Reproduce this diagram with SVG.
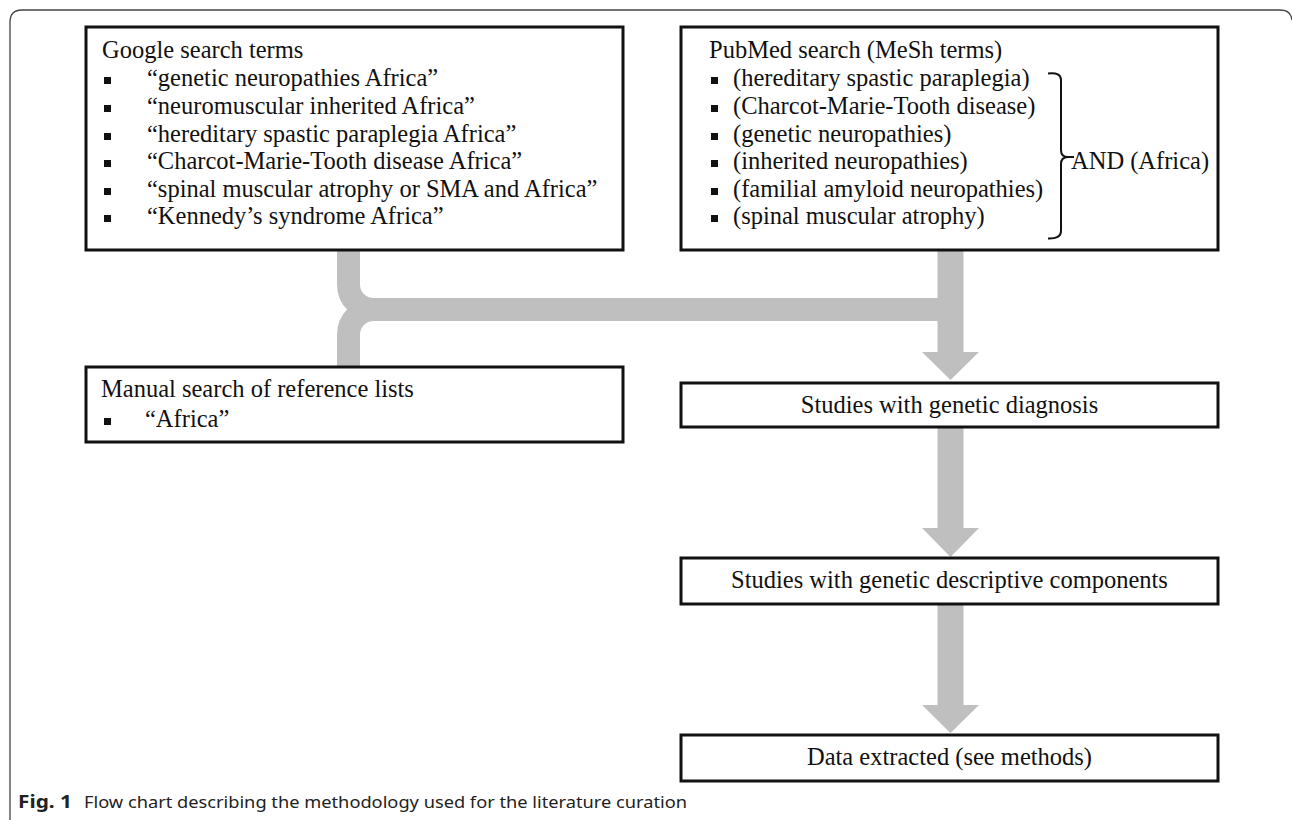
<svg xmlns="http://www.w3.org/2000/svg" width="1292" height="820" viewBox="0 0 1292 820">
<style>
.box{fill:#fff;stroke:#111;stroke-width:3}
.t{font-family:"Liberation Serif","Times New Roman",serif;font-size:24.5px;fill:#111}
.c{text-anchor:middle}
.bul{fill:#111}
.conn{fill:none;stroke:#bfbfbf;stroke-linecap:butt}
.head{fill:#bfbfbf}
.cap{font-family:"Noto Sans","Open Sans",sans-serif;font-size:17px;fill:#222}
</style>
<defs>
<rect id="b" width="7" height="7" class="bul"/>
</defs>
<rect width="1292" height="820" fill="#fff"/>
<path d="M10,820 V22 Q10,10 22,10 H1280 Q1291,10 1292,20" fill="none" stroke="#444" stroke-width="1.3"/>

<g id="connectors">
<path class="conn" stroke-width="23" d="M348.5,250 V284.5 A25,25 0 0 0 373.5,309.5 H950"/>
<path class="conn" stroke-width="23" d="M348.5,367 V334.5 A25,25 0 0 1 373.5,309.5"/>
<path class="conn" stroke-width="26" d="M950.5,250 V353"/>
<polygon class="head" points="922,352 979,352 950.5,380"/>
<path class="conn" stroke-width="26" d="M950.5,427 V529"/>
<polygon class="head" points="922,528 979,528 950.5,557"/>
<path class="conn" stroke-width="26" d="M950.5,604 V706"/>
<polygon class="head" points="922,705 979,705 950.5,733"/>
</g>

<g id="google">
<rect class="box" x="86" y="27" width="537" height="223"/>
<text class="t" x="102" y="58">Google search terms</text>
<use href="#b" x="104" y="77"/>
<use href="#b" x="104" y="105"/>
<use href="#b" x="104" y="133"/>
<use href="#b" x="104" y="160"/>
<use href="#b" x="104" y="188"/>
<use href="#b" x="104" y="215"/>
<text class="t" x="147" y="86">“genetic neuropathies Africa”</text>
<text class="t" x="147" y="114">“neuromuscular inherited Africa”</text>
<text class="t" x="147" y="142">“hereditary spastic paraplegia Africa”</text>
<text class="t" x="147" y="169">“Charcot-Marie-Tooth disease Africa”</text>
<text class="t" x="147" y="197">“spinal muscular atrophy or SMA and Africa”</text>
<text class="t" x="147" y="224">“Kennedy’s syndrome Africa”</text>
</g>

<g id="pubmed">
<rect class="box" x="681" y="27" width="537" height="223"/>
<text class="t" x="709" y="58">PubMed search (MeSh terms)</text>
<use href="#b" x="711" y="77"/>
<use href="#b" x="711" y="105"/>
<use href="#b" x="711" y="133"/>
<use href="#b" x="711" y="160"/>
<use href="#b" x="711" y="188"/>
<use href="#b" x="711" y="215"/>
<text class="t" x="733" y="86">(hereditary spastic paraplegia)</text>
<text class="t" x="733" y="114">(Charcot-Marie-Tooth disease)</text>
<text class="t" x="733" y="142">(genetic neuropathies)</text>
<text class="t" x="733" y="169">(inherited neuropathies)</text>
<text class="t" x="733" y="197">(familial amyloid neuropathies)</text>
<text class="t" x="733" y="224">(spinal muscular atrophy)</text>
<path d="M1048,73.5 Q1061,72 1061,80 V150 Q1061,157 1068,157 H1074 M1068,157 Q1061,157 1061,164 V231 Q1061,239 1048,238.5" fill="none" stroke="#111" stroke-width="2"/>
<text class="t" x="1071" y="169">AND (Africa)</text>
</g>

<g id="manual">
<rect class="box" x="86" y="367" width="537" height="75"/>
<text class="t" x="101" y="397">Manual search of reference lists</text>
<use href="#b" x="104" y="418"/>
<text class="t" x="145" y="427">“Africa”</text>
</g>

<g id="diagnosis">
<rect class="box" x="681" y="383" width="537" height="44"/>
<text class="t c" x="949.5" y="413">Studies with genetic diagnosis</text>
</g>

<g id="descriptive">
<rect class="box" x="681" y="558" width="537" height="46"/>
<text class="t c" x="949.5" y="588">Studies with genetic descriptive components</text>
</g>

<g id="extracted">
<rect class="box" x="681" y="735" width="537" height="46"/>
<text class="t c" x="949.5" y="765">Data extracted (see methods)</text>
</g>

<g id="caption">
<text class="cap" x="18" y="808" font-weight="bold" textLength="54" lengthAdjust="spacingAndGlyphs">Fig. 1</text>
<text class="cap" x="84" y="808" textLength="603" lengthAdjust="spacingAndGlyphs">Flow chart describing the methodology used for the literature curation</text>
</g>
</svg>
